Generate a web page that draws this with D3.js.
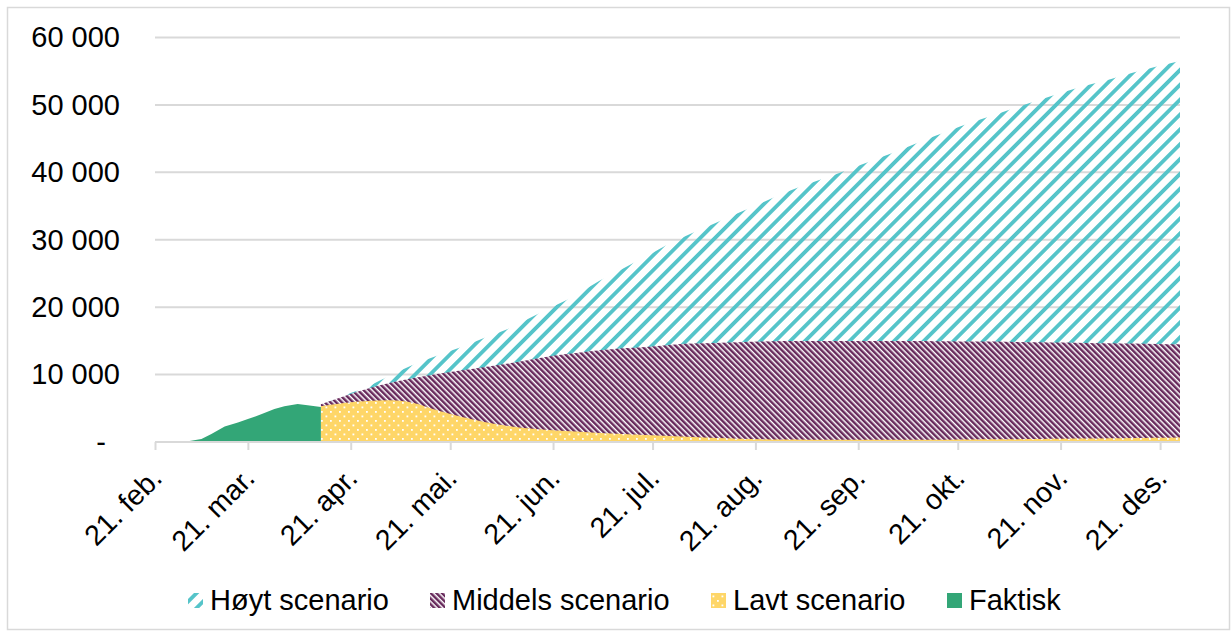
<!DOCTYPE html>
<html><head><meta charset="utf-8">
<script src="https://cdn.jsdelivr.net/npm/d3@7"></script>
<style>
body{margin:0;background:#fff}
svg{display:block}
text{font-family:"Liberation Sans",Arial,sans-serif;fill:#000}
</style>
</head><body>
<svg id="chart" width="1231" height="637"></svg>
<script>
// ---- data ----
const scenarioDates = ["2021-04-12","2021-04-19","2021-04-26","2021-05-03","2021-05-10","2021-05-17","2021-05-24","2021-05-31","2021-06-07","2021-06-14","2021-06-21","2021-06-28","2021-07-05","2021-07-12","2021-07-19","2021-07-26","2021-08-02","2021-08-09","2021-08-16","2021-08-23","2021-08-30","2021-09-06","2021-09-13","2021-09-20","2021-09-27","2021-10-04","2021-10-11","2021-10-18","2021-10-25","2021-11-01","2021-11-08","2021-11-15","2021-11-22","2021-11-29","2021-12-06","2021-12-13","2021-12-20","2021-12-27"];
const hoyt = [5500,6900,8200,9900,11500,12800,14000,15400,16700,18400,20100,21800,23900,25700,27500,29400,31000,32500,34000,35500,37000,38300,39500,40800,42100,43400,44800,46100,47400,48500,49700,50800,51900,52900,53800,54800,55700,56500];
const middels = [5600,6800,7900,8800,9500,10100,10600,11100,11600,12200,12800,13200,13600,13900,14100,14400,14600,14700,14800,14900,15000,15000,15000,15000,15000,15000,15000,14950,14900,14900,14850,14800,14750,14700,14650,14600,14550,14500];
const lavt = [5300,5800,6100,6200,5800,4700,3800,3000,2400,2000,1750,1550,1350,1200,1050,900,750,600,500,420,380,350,330,320,320,330,340,350,370,390,420,450,480,510,550,590,630,680];
const faktiskDates = ["2021-02-28","2021-03-03","2021-03-07","2021-03-10","2021-03-14","2021-03-18","2021-03-21","2021-03-25","2021-03-29","2021-04-01","2021-04-05","2021-04-08","2021-04-12"];
const faktisk = [0,100,450,1200,2300,2900,3400,4100,4900,5300,5650,5450,5200];
const xTickDates = ["2021-02-21","2021-03-21","2021-04-21","2021-05-21","2021-06-21","2021-07-21","2021-08-21","2021-09-21","2021-10-21","2021-11-21","2021-12-21"];
const xTickLabels = ["21. feb.","21. mar.","21. apr.","21. mai.","21. jun.","21. jul.","21. aug.","21. sep.","21. okt.","21. nov.","21. des."];
const yTicks = [0,10000,20000,30000,40000,50000,60000];
const yTickLabels = ["-","10 000","20 000","30 000","40 000","50 000","60 000"];
const seriesNames = ["Høyt scenario","Middels scenario","Lavt scenario","Faktisk"];

// ---- setup ----
const parse = d3.timeParse("%Y-%m-%d");
const svg = d3.select("#chart");
const x = d3.scaleTime().domain([parse("2021-02-21"), parse("2021-12-27")]).range([155, 1180]);
const y = d3.scaleLinear().domain([0, 60000]).range([442, 37.5]);

// border
svg.append("rect").attr("x",7.5).attr("y",7.5).attr("width",1222).attr("height",622)
  .attr("fill","none").attr("stroke","#d9d9d9").attr("stroke-width",1.5);

// patterns
const defs = svg.append("defs");
const pHoyt = defs.append("pattern").attr("id","pHoyt").attr("patternUnits","userSpaceOnUse")
  .attr("width",10.5).attr("height",10.5).attr("patternTransform","rotate(45)");
pHoyt.append("rect").attr("width",3.8).attr("height",10.5).attr("fill","#55c4c9");
const pMid = defs.append("pattern").attr("id","pMid").attr("patternUnits","userSpaceOnUse")
  .attr("width",4).attr("height",4).attr("patternTransform","rotate(-45)");
pMid.append("rect").attr("width",4).attr("height",4).attr("fill","#ffffff");
pMid.append("rect").attr("width",2.5).attr("height",4).attr("fill","#682a5c");
const pLav = defs.append("pattern").attr("id","pLav").attr("patternUnits","userSpaceOnUse")
  .attr("width",9).attr("height",9);
pLav.append("rect").attr("width",9).attr("height",9).attr("fill","#fed668");
pLav.append("rect").attr("x",1.5).attr("y",1.5).attr("width",1.8).attr("height",1.8).attr("fill","#fff");
pLav.append("rect").attr("x",6).attr("y",6).attr("width",1.8).attr("height",1.8).attr("fill","#fff");

const fills = ["url(#pHoyt)","url(#pMid)","url(#pLav)","#33a677"];

// gridlines
svg.append("g").selectAll("line").data(yTicks.filter(d=>d>0)).join("line")
  .attr("x1",155).attr("x2",1180).attr("y1",d=>y(d)).attr("y2",d=>y(d))
  .attr("stroke","#d9d9d9").attr("stroke-width",2);

// areas
const sd = scenarioDates.map(parse);
const area = d3.area().x(d=>x(d[0])).y0(y(0)).y1(d=>y(d[1])).curve(d3.curveMonotoneX);
const areaLin = d3.area().x(d=>x(d[0])).y0(y(0)).y1(d=>y(d[1]));
const data = [
  sd.map((d,i)=>[d,hoyt[i]]),
  sd.map((d,i)=>[d,middels[i]]),
  sd.map((d,i)=>[d,lavt[i]]),
  faktiskDates.map((d,i)=>[parse(d),faktisk[i]])
];
data.forEach((ser,i)=>{
  svg.append("path").attr("d", i===3 ? areaLin(ser) : area(ser)).attr("fill", fills[i]);
});

// x axis
const xAxis = d3.axisBottom(x).tickValues(xTickDates.map(parse)).tickSize(8)
  .tickFormat((d,i)=>xTickLabels[i]);
const gx = svg.append("g").attr("transform",`translate(0,${y(0)})`).call(xAxis);
gx.select(".domain").attr("stroke","#d9d9d9").attr("stroke-width",2).attr("d","M155,0H1180");
gx.selectAll(".tick line").attr("stroke","#d9d9d9").attr("stroke-width",2);
gx.selectAll(".tick text").attr("font-size",28.5).attr("fill","#000")
  .attr("text-anchor","end").attr("dy",0).attr("x",0).attr("y",0)
  .attr("transform","translate(8,38) rotate(-45)");

// y axis labels
const yAxis = d3.axisLeft(y).tickValues(yTicks).tickSize(0).tickPadding(35)
  .tickFormat((d,i)=>yTickLabels[i]);
const gy = svg.append("g").attr("transform","translate(155,0)").call(yAxis);
gy.select(".domain").remove();
gy.selectAll(".tick text").attr("font-size",29).attr("fill","#000")
  .attr("dx",d=>d===0?-14:0);

// legend
const legX = [188,430,711,947];
const leg = svg.append("g");
seriesNames.forEach((n,i)=>{
  leg.append("rect").attr("x",legX[i]).attr("y",593).attr("width",15).attr("height",15).attr("fill",fills[i]);
  leg.append("text").attr("x",legX[i]+22).attr("y",610).attr("font-size",29).text(n);
});
</script>
</body></html>
